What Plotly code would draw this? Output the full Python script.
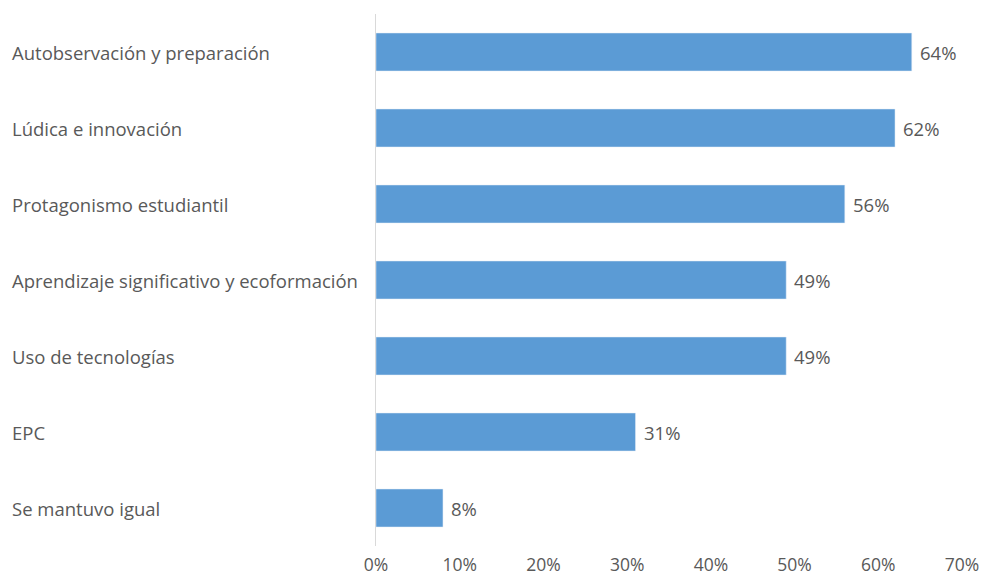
import plotly.graph_objects as go

categories = [
    "Autobservación y preparación",
    "Lúdica e innovación",
    "Protagonismo estudiantil",
    "Aprendizaje significativo y ecoformación",
    "Uso de tecnologías",
    "EPC",
    "Se mantuvo igual",
]
values = [0.64, 0.62, 0.56, 0.49, 0.49, 0.31, 0.08]
tick_vals = [0, 0.1, 0.2, 0.3, 0.4, 0.5, 0.6, 0.7]
tick_text = ["0%", "10%", "20%", "30%", "40%", "50%", "60%", "70%"]

font_color = "#595959"
font_family = "Open Sans"
fsize = 18.5

fig = go.Figure()
fig.add_trace(go.Bar(
    x=values,
    y=categories,
    orientation="h",
    marker=dict(color="#5B9BD5"),
    width=0.5,
    hoverinfo="x+y",
))

for c, v in zip(categories, values):
    fig.add_annotation(
        x=-0.6246, xref="paper", y=c, yref="y",
        text=c, showarrow=False, xanchor="left", yanchor="middle",
        font=dict(color=font_color, size=fsize, family=font_family),
    )
    fig.add_annotation(
        x=v, xref="x", y=c, yref="y",
        text=f"{round(v*100)}%", showarrow=False, xanchor="left", yanchor="middle",
        xshift=6,
        font=dict(color=font_color, size=fsize, family=font_family),
    )

fig.update_layout(
    width=983, height=578,
    margin=dict(l=376, r=21, t=14, b=32),
    plot_bgcolor="white", paper_bgcolor="white",
    showlegend=False,
    font=dict(family=font_family, color=font_color, size=fsize),
    xaxis=dict(
        range=[0, 0.7], tickvals=tick_vals, ticktext=tick_text,
        showgrid=False, zeroline=False, showline=False,
        ticks="outside", ticklen=3, tickcolor="rgba(0,0,0,0)",
        tickfont=dict(size=17.5, color=font_color, family=font_family),
        automargin=False,
    ),
    yaxis=dict(
        autorange="reversed", showticklabels=False, showgrid=False,
        zeroline=False, showline=True, linecolor="#D9D9D9", linewidth=1,
        ticks="", automargin=False,
    ),
)

fig.write_html("out.html")
